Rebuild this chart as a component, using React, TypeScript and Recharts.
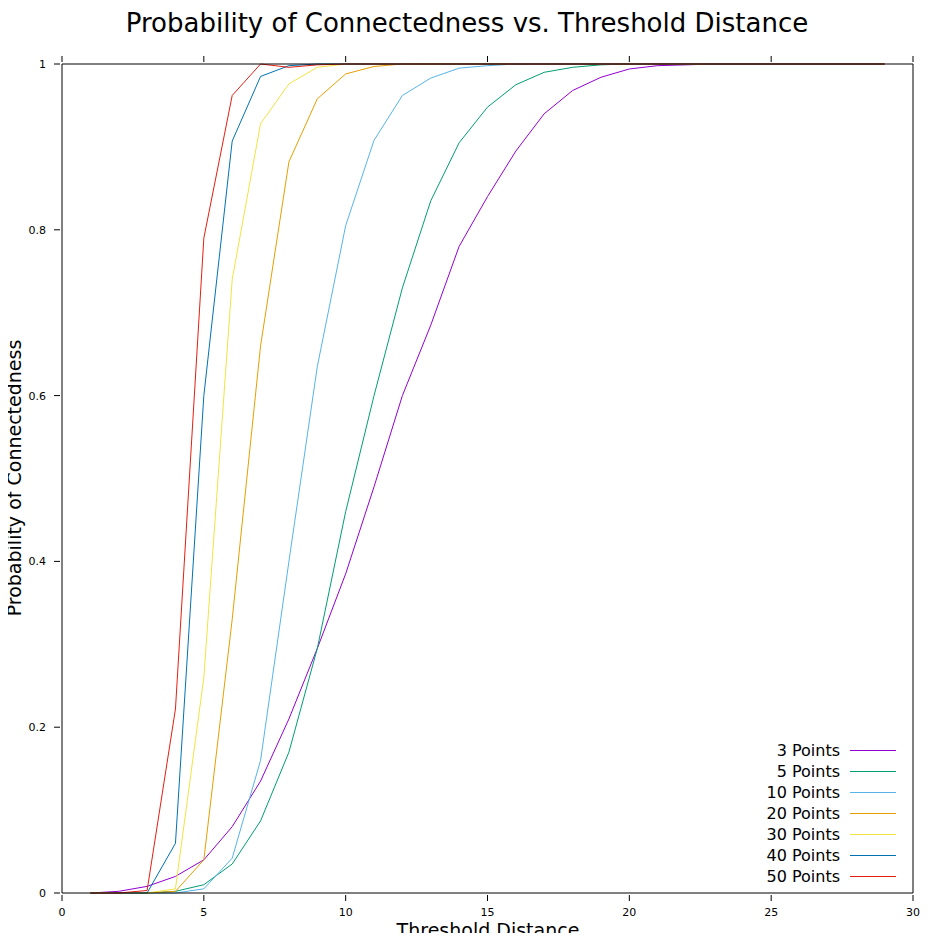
import { LineChart, Line, XAxis, YAxis } from 'recharts';

const distances = [1, 2, 3, 4, 5, 6, 7, 8, 9, 10, 11, 12, 13, 14, 15, 16, 17, 18, 19, 20, 21, 22, 23, 24, 25, 26, 27, 28, 29];

const p3 = [0, 0.002, 0.008, 0.02, 0.04, 0.08, 0.135, 0.21, 0.295, 0.385, 0.49, 0.6, 0.685, 0.78, 0.84, 0.895, 0.94, 0.968, 0.984, 0.994, 0.998, 0.999, 1, 1, 1, 1, 1, 1, 1];
const p5 = [0, 0, 0, 0.002, 0.01, 0.035, 0.087, 0.17, 0.295, 0.46, 0.6, 0.73, 0.835, 0.905, 0.948, 0.975, 0.99, 0.996, 0.999, 1, 1, 1, 1, 1, 1, 1, 1, 1, 1];
const p10 = [0, 0, 0, 0, 0.005, 0.042, 0.16, 0.4, 0.635, 0.805, 0.908, 0.962, 0.983, 0.995, 0.998, 1, 1, 1, 1, 1, 1, 1, 1, 1, 1, 1, 1, 1, 1];
const p20 = [0, 0, 0, 0.002, 0.04, 0.33, 0.66, 0.882, 0.958, 0.988, 0.997, 1, 1, 1, 1, 1, 1, 1, 1, 1, 1, 1, 1, 1, 1, 1, 1, 1, 1];
const p30 = [0, 0, 0, 0.005, 0.26, 0.74, 0.928, 0.976, 0.996, 1, 1, 1, 1, 1, 1, 1, 1, 1, 1, 1, 1, 1, 1, 1, 1, 1, 1, 1, 1];
const p40 = [0, 0, 0, 0.06, 0.6, 0.907, 0.985, 0.998, 1, 1, 1, 1, 1, 1, 1, 1, 1, 1, 1, 1, 1, 1, 1, 1, 1, 1, 1, 1, 1];
const p50 = [0, 0, 0.003, 0.222, 0.79, 0.962, 1, 0.996, 0.999, 1, 1, 1, 1, 1, 1, 1, 1, 1, 1, 1, 1, 1, 1, 1, 1, 1, 1, 1, 1];

const seriesNames = ['3 Points', '5 Points', '10 Points', '20 Points', '30 Points', '40 Points', '50 Points'];
const seriesValues = [p3, p5, p10, p20, p30, p40, p50];
const colors = ['#9400d3', '#009e73', '#56b4e9', '#e69f00', '#f0e442', '#0072b2', '#e51e10'];
const xTicks = [0, 5, 10, 15, 20, 25, 30];
const yTicks = [0, 0.2, 0.4, 0.6, 0.8, 1];

const data = distances.map((d, i) => {
  const row: Record<string, number> = { d };
  seriesNames.forEach((n, k) => (row[n] = seriesValues[k][i]));
  return row;
});

const font = 'DejaVu Sans, sans-serif';

const XTick = ({ x, y, payload, top }: any) => (
  <g>
    <line x1={x} x2={x} y1={y} y2={top ? y + 6 : y - 6} stroke="#000" />
    {!top && <text x={x} y={y + 15} textAnchor="middle" fontSize={11} fontFamily={font}>{payload.value}</text>}
  </g>
);

const YTick = ({ x, y, payload, right }: any) => (
  <g>
    <line x1={x} x2={right ? x - 6 : x + 6} y1={y} y2={y} stroke="#000" />
    {!right && <text x={x - 8} y={y + 4} textAnchor="end" fontSize={11} fontFamily={font}>{payload.value}</text>}
  </g>
);

export default function App() {
  return (
    <div style={{ position: 'relative', width: 934, height: 941, margin: -8, background: '#fff' }}>
      <div style={{ position: 'absolute', top: 8, width: 934, textAlign: 'center', fontFamily: font, fontSize: 26 }}>
        Probability of Connectedness vs. Threshold Distance
      </div>
      <div style={{ position: 'absolute', top: 919, width: 976, textAlign: 'center', fontFamily: font, fontSize: 19 }}>
        Threshold Distance
      </div>
      <div style={{ position: 'absolute', left: 14, top: 478, fontFamily: font, fontSize: 19, transform: 'translate(-50%, -50%) rotate(-90deg)', whiteSpace: 'nowrap' }}>
        Probability of Connectedness
      </div>
      <div style={{ position: 'absolute', right: 38, top: 740, fontFamily: font, fontSize: 16 }}>
        {seriesNames.map((n, k) => (
          <div key={n} style={{ display: 'flex', alignItems: 'center', justifyContent: 'flex-end', height: 21 }}>
            <span>{n}</span>
            <span style={{ display: 'inline-block', width: 46, height: 0, borderTop: `1px solid ${colors[k]}`, marginLeft: 10 }} />
          </div>
        ))}
      </div>
      <LineChart width={934} height={941} data={data} margin={{ top: 63, right: 20, bottom: 47, left: 61 }}>
        <XAxis xAxisId="b" dataKey="d" type="number" domain={[0, 30]} ticks={xTicks} height={1} tickLine={false} axisLine={{ stroke: '#000' }} tick={<XTick />} interval={0} />
        <XAxis xAxisId="t" orientation="top" dataKey="d" type="number" domain={[0, 30]} ticks={xTicks} height={1} tickLine={false} axisLine={{ stroke: '#000' }} tick={<XTick top />} interval={0} />
        <YAxis yAxisId="l" domain={[0, 1]} ticks={yTicks} width={1} tickLine={false} axisLine={{ stroke: '#000' }} tick={<YTick />} interval={0} />
        <YAxis yAxisId="r" orientation="right" domain={[0, 1]} ticks={yTicks} width={1} tickLine={false} axisLine={{ stroke: '#000' }} tick={<YTick right />} interval={0} />
        {seriesNames.map((n, k) => (
          <Line key={n} xAxisId="b" yAxisId="l" dataKey={n} type="linear" stroke={colors[k]} strokeWidth={1} dot={false} isAnimationActive={false} />
        ))}
      </LineChart>
    </div>
  );
}
